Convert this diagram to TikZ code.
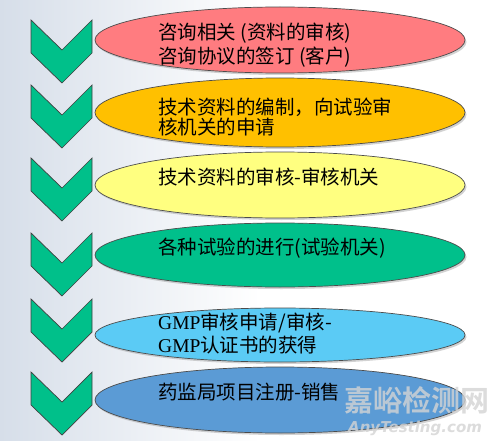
\documentclass[tikz,border=0pt]{standalone}
\usepackage{fontspec}
\setmainfont{Liberation Serif}
\newfontfamily\cjk{Noto Sans CJK SC}
\newfontfamily\wmfont{Noto Sans CJK SC}[BoldFont={* Bold}]
\newfontfamily\wmlat{DejaVu Sans}
\usetikzlibrary{shapes.geometric,shadows}
\definecolor{chev}{HTML}{00C08A}
\definecolor{c1}{HTML}{FF7C80}
\definecolor{c2}{HTML}{FFC000}
\definecolor{c3}{HTML}{FFFF80}
\definecolor{c4}{HTML}{00C08B}
\definecolor{c5}{HTML}{5BCBF5}
\definecolor{c6}{HTML}{5B9BD5}
\definecolor{bgl}{HTML}{D6DEE9}
\definecolor{wm}{HTML}{D4D4D4}
\tikzset{
  oval/.style={ellipse, draw=black!70, line width=0.7pt, minimum width=370pt, inner sep=0pt,
    drop shadow={opacity=0.35, shadow xshift=1.5pt, shadow yshift=-2pt}},
  txt/.style={anchor=base west, inner sep=0pt, font=\cjk\fontsize{19.5}{23}\selectfont, text=black},
  chevron/.style={fill=chev, draw=black!75, line width=0.7pt, line join=miter},
}
\newcommand{\lat}[1]{{\rmfamily #1}}
\begin{document}
\begin{tikzpicture}[x=1pt,y=-1pt]
\useasboundingbox (0,0) rectangle (500,441);
\shade[left color=bgl, right color=white] (0,0) rectangle (260,441);
\fill[white] (260,0) rectangle (500,441);
% chevrons
\foreach \t in {20,85,158,233,299,372}{
  \draw[chevron] (31,\t) -- (62,\t+30) -- (92,\t) -- (92,\t+33) -- (62,\t+63) -- (31,\t+33) -- cycle;
}
% ellipses
\node[oval, fill=c1, minimum height=66pt] (e1) at (280,40) {};
\node[oval, fill=c2, minimum height=69pt] (e2) at (280,112.5) {};
\node[oval, fill=c3, minimum height=66pt] (e3) at (280,185) {};
\node[oval, fill=c4, minimum height=64pt] (e4) at (280,255) {};
\node[oval, fill=c5, minimum height=54pt] (e5) at (280,335) {};
\node[oval, fill=c6, minimum height=66pt] (e6) at (280,400) {};
% texts
\node[txt] (t1a) at (158,40) {咨询相关 (资料的审核)};
\node[txt] (t1b) at (158,64) {咨询协议的签订 (客户)};
\node[txt] (t2a) at (158,114) {技术资料的编制，向试验审};
\node[txt] (t2b) at (158,135) {核机关的申请};
\node[txt] (t3) at (158,184) {技术资料的审核-审核机关};
\node[txt] (t4) at (158,254) {各种试验的进行(试验机关)};
\node[txt] (t5a) at (158,329) {\lat{GMP}审核申请/审核-};
\node[txt] (t5b) at (158,352) {\lat{GMP}认证书的获得};
\node[txt] (t6) at (158,399) {药监局项目注册-销售};
% watermark
\node[anchor=base west, inner sep=0pt, text=wm, opacity=0.8, font=\wmfont\bfseries\fontsize{29}{30}\selectfont] (wm1) at (344,411) {嘉峪检测网};
\node[anchor=base west, inner sep=0pt, text=wm, opacity=0.8, font=\wmlat\bfseries\itshape\fontsize{15}{16}\selectfont] (wm2) at (348,432) {AnyTesting.com};
\end{tikzpicture}
\end{document}
